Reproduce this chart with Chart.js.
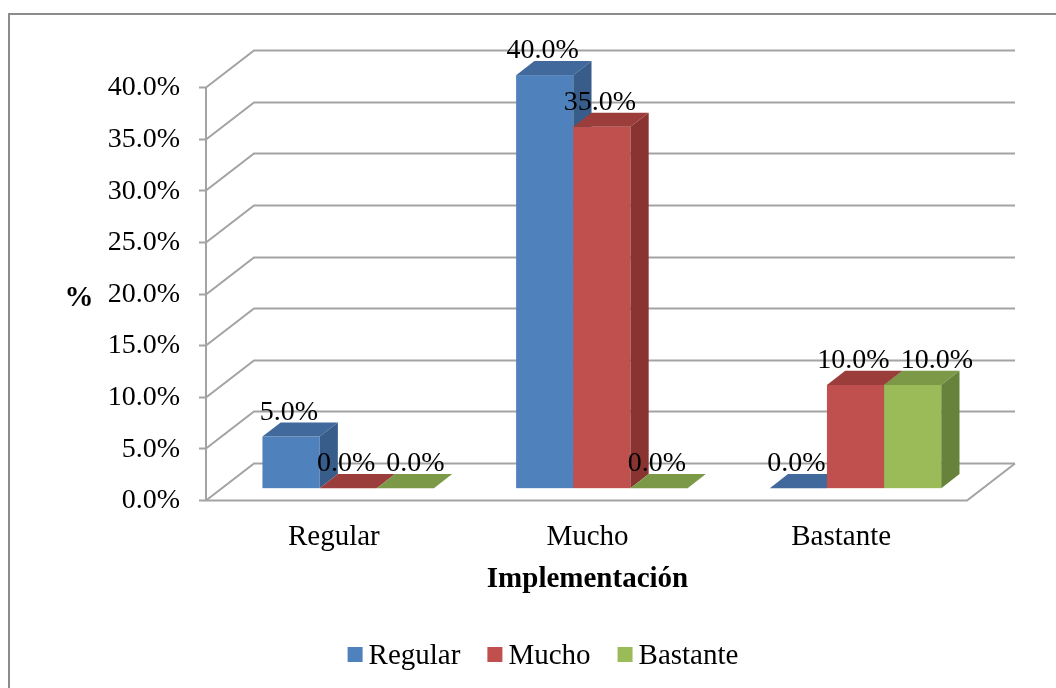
<!DOCTYPE html>
<html>
<head>
<meta charset="utf-8">
<script src="https://cdn.jsdelivr.net/npm/chart.js@4/dist/chart.umd.min.js"></script>
<style>
  html, body { margin: 0; padding: 0; background: #ffffff; }
  canvas { display: block; }
</style>
</head>
<body>
<canvas id="chart" width="1056" height="688"></canvas>
<script>
// Categories and series values (percent)
const categories = ['Regular', 'Mucho', 'Bastante'];
const seriesNames = ['Regular', 'Mucho', 'Bastante'];
const regularValues = [5.0, 40.0, 0.0];
const muchoValues = [0.0, 35.0, 10.0];
const bastanteValues = [0.0, 0.0, 10.0];
const yMin = 0;
const yMax = 40;
const yStep = 5;
const xTitle = 'Implementación';
const yTitle = '%';

// Face colours: front, top, side
const palette = [
  { front: '#4F81BD', top: '#41699B', side: '#385D8A' },
  { front: '#C0504D', top: '#9B3E3B', side: '#8A3432' },
  { front: '#9BBB59', top: '#7B9946', side: '#67823A' }
];

const FONT = "'Liberation Serif', 'Times New Roman', serif";
const GRID = '#a3a3a3';
// Perspective offset of the back wall relative to the front plane
const DEPTH = { dx: 48, dy: -37 };
// Bars occupy this slice of the floor depth
const BAR_FRONT = 0.32, BAR_BACK = 0.70;

const fmt = v => v.toFixed(1) + '%';

const frame3d = {
  id: 'frame3d',
  beforeDatasetsDraw(chart) {
    const { ctx, chartArea: { left, right, top, bottom }, scales: { x, y } } = chart;
    ctx.save();

    // outer frame
    ctx.strokeStyle = '#8c8c8c';
    ctx.lineWidth = 2;
    ctx.strokeRect(9, 14, 1100, 760);

    // back wall gridlines with the left-wall diagonal
    ctx.strokeStyle = GRID;
    ctx.lineWidth = 2;
    y.ticks.forEach(t => {
      const py = Math.round(y.getPixelForValue(t.value)) + 0.5;
      ctx.beginPath();
      ctx.moveTo(left, py);
      ctx.lineTo(left + DEPTH.dx, py + DEPTH.dy);
      ctx.lineTo(right + DEPTH.dx, py + DEPTH.dy);
      ctx.stroke();
    });

    // floor front and right edges
    const by = Math.round(bottom) + 0.5;
    ctx.beginPath();
    ctx.moveTo(left, by);
    ctx.lineTo(right, by);
    ctx.lineTo(right + DEPTH.dx, by + DEPTH.dy);
    ctx.stroke();

    // vertical axis and ticks
    ctx.beginPath();
    ctx.moveTo(left, top);
    ctx.lineTo(left, bottom);
    y.ticks.forEach(t => {
      const py = Math.round(y.getPixelForValue(t.value)) + 0.5;
      ctx.moveTo(left - 7, py);
      ctx.lineTo(left, py);
    });
    ctx.stroke();

    // tick labels
    ctx.fillStyle = '#000';
    ctx.font = '28px ' + FONT;
    ctx.textAlign = 'right';
    ctx.textBaseline = 'middle';
    y.ticks.forEach(t => {
      ctx.fillText(fmt(t.value), left - 26, y.getPixelForValue(t.value) + 1);
    });

    // category labels
    ctx.font = '29px ' + FONT;
    ctx.textAlign = 'center';
    ctx.textBaseline = 'alphabetic';
    categories.forEach((c, i) => {
      ctx.fillText(c, x.getPixelForValue(i) + 1, bottom + 45);
    });

    // axis titles
    ctx.font = 'bold 29px ' + FONT;
    ctx.fillText(xTitle, (left + right) / 2 + 1, bottom + 87);
    ctx.fillText(yTitle, 79, y.getPixelForValue(20) + 12);

    // legend
    ctx.font = '29px ' + FONT;
    const box = 15, gapText = 6, gapItem = 27;
    const items = chart.data.datasets.map((ds, i) => ({
      label: ds.label, color: palette[i].front, w: ctx.measureText(ds.label).width
    }));
    const total = items.reduce((s, it) => s + box + gapText + it.w, 0) + gapItem * (items.length - 1);
    let lx = 543 - total / 2;
    const ly = 664;
    ctx.textAlign = 'left';
    items.forEach(it => {
      ctx.fillStyle = it.color;
      ctx.fillRect(lx, ly - 17, box, box);
      ctx.fillStyle = '#000';
      ctx.fillText(it.label, lx + box + gapText, ly);
      lx += box + gapText + it.w + gapItem;
    });

    ctx.restore();
  },
  beforeDatasetDraw() {
    // bars are drawn as prisms in afterDatasetsDraw
    return false;
  },
  afterDatasetsDraw(chart) {
    const { ctx } = chart;
    const ox = DEPTH.dx * BAR_FRONT, oy = DEPTH.dy * BAR_FRONT;
    const bdx = DEPTH.dx * (BAR_BACK - BAR_FRONT), bdy = DEPTH.dy * (BAR_BACK - BAR_FRONT);
    const groups = [];
    ctx.save();
    categories.forEach((_, ci) => {
      const labels = [];
      chart.data.datasets.forEach((ds, di) => {
        const el = chart.getDatasetMeta(di).data[ci];
        const p = el.getProps(['x', 'y', 'base', 'width'], true);
        const c = palette[di];
        const x0 = p.x - p.width / 2 + ox, x1 = p.x + p.width / 2 + ox;
        const yt = p.y + oy, yb = p.base + oy;
        // front face
        if (yb - yt > 0.5) {
          ctx.fillStyle = c.front;
          ctx.fillRect(x0, yt, x1 - x0, yb - yt);
        }
        // top face
        ctx.fillStyle = c.top;
        ctx.beginPath();
        ctx.moveTo(x0, yt);
        ctx.lineTo(x0 + bdx, yt + bdy);
        ctx.lineTo(x1 + bdx, yt + bdy);
        ctx.lineTo(x1, yt);
        ctx.closePath();
        ctx.fill();
        // side face
        if (yb - yt > 0.5) {
          ctx.fillStyle = c.side;
          ctx.beginPath();
          ctx.moveTo(x1, yt);
          ctx.lineTo(x1 + bdx, yt + bdy);
          ctx.lineTo(x1 + bdx, yb + bdy);
          ctx.lineTo(x1, yb);
          ctx.closePath();
          ctx.fill();
        }
        labels.push({ text: fmt(ds.data[ci]), x: (x0 + x1) / 2 - 2, y: yt - 17 });
      });
      groups.push(labels);
    });
    // value labels, nudged right when they would collide on the same row
    ctx.fillStyle = '#000';
    ctx.font = '28px ' + FONT;
    ctx.textAlign = 'center';
    ctx.textBaseline = 'alphabetic';
    groups.forEach(labels => {
      let prev = null;
      labels.forEach(l => {
        const w = ctx.measureText(l.text).width;
        if (prev && Math.abs(prev.y - l.y) < 22 && l.x - w / 2 < prev.right + 11) {
          l.x = prev.right + 11 + w / 2;
        }
        ctx.fillText(l.text, l.x, l.y);
        prev = { y: l.y, right: l.x + w / 2 };
      });
    });
    ctx.restore();
  }
};

new Chart(document.getElementById('chart'), {
  type: 'bar',
  data: {
    labels: categories,
    datasets: [
      { label: seriesNames[0], data: regularValues, backgroundColor: palette[0].front },
      { label: seriesNames[1], data: muchoValues, backgroundColor: palette[1].front },
      { label: seriesNames[2], data: bastanteValues, backgroundColor: palette[2].front }
    ]
  },
  options: {
    responsive: false,
    animation: false,
    devicePixelRatio: 1,
    layout: { padding: { left: 206, top: 87, right: 89, bottom: 188 } },
    datasets: { bar: { categoryPercentage: 0.676, barPercentage: 1.0 } },
    plugins: { legend: { display: false }, tooltip: { enabled: false } },
    scales: {
      x: { display: false, offset: true },
      y: { display: false, min: yMin, max: yMax, ticks: { stepSize: yStep } }
    }
  },
  plugins: [frame3d]
});
</script>
</body>
</html>
